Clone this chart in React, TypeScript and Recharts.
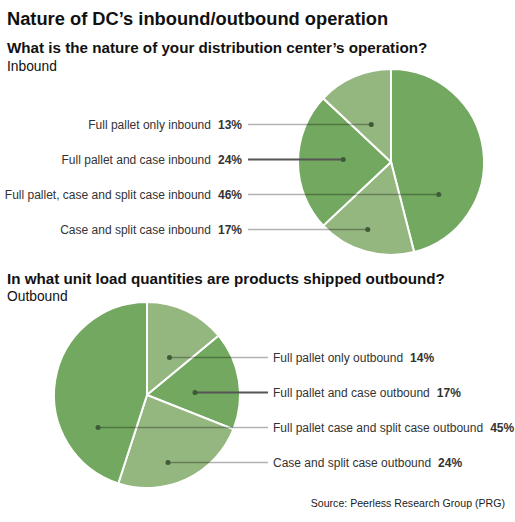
import React from "react";
import { PieChart, Pie, Cell } from "recharts";

// ---- Data ----
const inboundNames = [
  "Full pallet, case and split case inbound",
  "Case and split case inbound",
  "Full pallet and case inbound",
  "Full pallet only inbound",
];
const inboundValues = [46, 17, 24, 13];
const inboundRows = [2, 3, 1, 0]; // label row (top to bottom) for each slice

const outboundNames = [
  "Full pallet only outbound",
  "Full pallet and case outbound",
  "Case and split case outbound",
  "Full pallet case and split case outbound",
];
const outboundValues = [14, 17, 24, 45];
const outboundRows = [0, 1, 3, 2];

const inboundData = inboundNames.map((name, i) => ({ name, value: inboundValues[i] }));
const outboundData = outboundNames.map((name, i) => ({ name, value: outboundValues[i] }));

// ---- Styles ----
const DARK = "#72a85f";
const LIGHT = "#94b67f";
const inboundColors = [DARK, LIGHT, DARK, LIGHT];
const outboundColors = [LIGHT, DARK, LIGHT, DARK];
const inboundHighlight = 2;
const outboundHighlight = 1;
const FONT = "'Liberation Sans', Arial, Helvetica, sans-serif";

const W = 515;
const H = 522;
const R = 93;
const IN_CX = 391;
const IN_CY = 162;
const OUT_CX = 147;
const OUT_CY = 395;
const ROW_START = -37.5;
const ROW_GAP = 35;

function chordMid(cx: number, cy: number, r: number, start: number, end: number, y: number) {
  const dy = y - cy;
  const span = start - end;
  let minX = Infinity;
  let maxX = -Infinity;
  for (let x = cx - r; x <= cx + r; x += 0.5) {
    const dx = x - cx;
    if (dx * dx + dy * dy > r * r) continue;
    const a = (Math.atan2(-dy, dx) * 180) / Math.PI;
    const d = (((start - a) % 360) + 360) % 360;
    if (d <= span) {
      if (x < minX) minX = x;
      if (x > maxX) maxX = x;
    }
  }
  if (!isFinite(minX)) return cx;
  return (minX + maxX) / 2;
}

function makeLabel(side: "left" | "right", rows: number[], highlight: number, lineEnd: number) {
  return (props: any) => {
    const { cx, cy, outerRadius, startAngle, endAngle, index, name, value } = props;
    const y = cy + ROW_START + ROW_GAP * rows[index];
    const dotX = chordMid(cx, cy, outerRadius, startAngle, endAngle, y);
    const hl = index === highlight;
    const lineStyle = hl
      ? { stroke: "#555", strokeWidth: 2 }
      : { stroke: "#000", strokeOpacity: 0.3, strokeWidth: 1.5 };
    const textX = side === "left" ? lineEnd - 6 : lineEnd + 5;
    return (
      <g key={`lbl-${index}`}>
        <line x1={lineEnd} y1={y} x2={dotX} y2={y} {...lineStyle} />
        <circle cx={dotX} cy={y} r={2.5} fill="#3f5a37" />
        <text
          x={textX}
          y={y}
          dy="0.36em"
          textAnchor={side === "left" ? "end" : "start"}
          fontFamily={FONT}
          fontSize={12}
          fill="#333"
        >
          {name}
          <tspan dx={7} fontWeight="bold">{`${value}%`}</tspan>
        </text>
      </g>
    );
  };
}

export default function App() {
  return (
    <div style={{ position: "absolute", left: 0, top: 0, width: W, height: H, background: "#fff" }}>
      <svg width={W} height={H} style={{ position: "absolute", left: 0, top: 0 }}>
        <text x={7} y={25} fontFamily={FONT} fontSize={18.3} fontWeight="bold" fill="#111">
          Nature of DC’s inbound/outbound operation
        </text>
        <text x={7} y={53} fontFamily={FONT} fontSize={15.2} fontWeight="bold" fill="#111">
          What is the nature of your distribution center’s operation?
        </text>
        <text x={7} y={71} fontFamily={FONT} fontSize={13.8} fill="#111">
          Inbound
        </text>
        <text x={7} y={284} fontFamily={FONT} fontSize={15.2} fontWeight="bold" fill="#111">
          In what unit load quantities are products shipped outbound?
        </text>
        <text x={7} y={301} fontFamily={FONT} fontSize={13.8} fill="#111">
          Outbound
        </text>
        <text x={505} y={507} textAnchor="end" fontFamily={FONT} fontSize={10.6} fill="#222">
          Source: Peerless Research Group (PRG)
        </text>
      </svg>
      <div style={{ position: "absolute", left: 0, top: 0 }}>
        <PieChart width={W} height={H} margin={{ top: 0, right: 0, bottom: 0, left: 0 }}>
          <Pie
            data={inboundData}
            dataKey="value"
            nameKey="name"
            cx={IN_CX}
            cy={IN_CY}
            outerRadius={R}
            startAngle={90}
            endAngle={-270}
            stroke="#fff"
            strokeWidth={2}
            isAnimationActive={false}
            labelLine={false}
            label={makeLabel("left", inboundRows, inboundHighlight, 248)}
          >
            {inboundData.map((d, i) => (
              <Cell key={d.name} fill={inboundColors[i]} />
            ))}
          </Pie>
          <Pie
            data={outboundData}
            dataKey="value"
            nameKey="name"
            cx={OUT_CX}
            cy={OUT_CY}
            outerRadius={R}
            startAngle={90}
            endAngle={-270}
            stroke="#fff"
            strokeWidth={2}
            isAnimationActive={false}
            labelLine={false}
            label={makeLabel("right", outboundRows, outboundHighlight, 268)}
          >
            {outboundData.map((d, i) => (
              <Cell key={d.name} fill={outboundColors[i]} />
            ))}
          </Pie>
        </PieChart>
      </div>
    </div>
  );
}
